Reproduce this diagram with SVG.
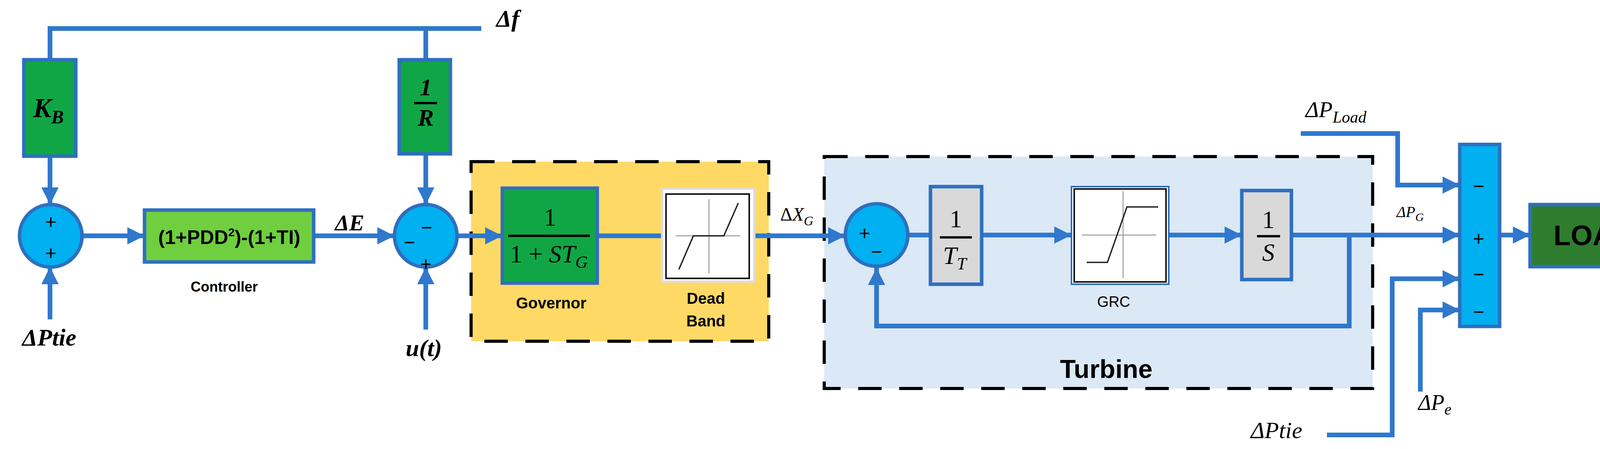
<svg xmlns="http://www.w3.org/2000/svg" width="4393" height="1150" viewBox="0 0 4393 1150">
<style>
.ln{fill:none;stroke:#2f78cc;stroke-width:12;stroke-linejoin:miter}
.arr{marker-end:url(#ah)}
.sum{fill:#00b0f0;stroke:#2e6fc0;stroke-width:9}
.gb{fill:#10a645;stroke:#2e6fc0;stroke-width:9}
.gray{fill:#d9d9d9;stroke:#2e6fc0;stroke-width:9}
.dash{stroke:#000;stroke-width:8;stroke-dasharray:60 45}
.m{font-family:"Liberation Serif",serif;font-style:italic;font-weight:bold;fill:#000;text-anchor:middle}
.mi{font-family:"Liberation Serif",serif;font-style:italic;fill:#000;text-anchor:middle}
.mr{font-family:"Liberation Serif",serif;fill:#000;text-anchor:middle}
.lb{font-family:"Liberation Sans",sans-serif;font-weight:bold;fill:#000;text-anchor:middle}
.sg{font-family:"Liberation Sans",sans-serif;fill:#000;text-anchor:middle;font-size:50px}
.bar{stroke:#000;stroke-width:6}
.ax{stroke:#999;stroke-width:2.5}
.cv{fill:none;stroke:#222;stroke-width:3.5}
</style>
<defs>
<marker id="ah" markerUnits="userSpaceOnUse" markerWidth="44" markerHeight="44" refX="40" refY="20" orient="auto" viewBox="0 0 40 40"><path d="M0,0 L40,20 L0,40 z" fill="#2f78cc"/></marker>
</defs>
<rect width="4393" height="1150" fill="#fff"/>

<g id="governor-group">
<rect x="1206" y="414" width="762" height="460" fill="#ffd966"/>
<rect x="1206" y="414" width="762" height="460" fill="none" class="dash"/>
</g>
<g id="turbine-group">
<rect x="2110" y="401" width="1404" height="594" fill="#dbe8f6"/>
<rect x="2110" y="401" width="1404" height="594" fill="none" class="dash"/>
<text x="2832" y="968" class="lb" font-size="66">Turbine</text>
</g>

<g id="connectors">
<path class="ln" d="M128,153 V73 H1232"/>
<path class="ln" d="M1090,153 V73"/>
<path class="ln arr" d="M128,400 V524"/>
<path class="ln arr" d="M128,818 V684"/>
<path class="ln arr" d="M210,604 H370"/>
<path class="ln arr" d="M803,604 H1010"/>
<path class="ln arr" d="M1090,394 V524"/>
<path class="ln arr" d="M1090,844 V684"/>
<path class="ln arr" d="M1170,604 H1286"/>
<path class="ln" d="M1529,604 H1705"/>
<path class="ln arr" d="M1931,604 H2164"/>
<path class="ln" d="M2324,602 H2382"/>
<path class="ln arr" d="M2513,602 H2743"/>
<path class="ln arr" d="M2992,602 H3179"/>
<path class="ln arr" d="M3306,602 H3737"/>
<path class="ln arr" d="M3454,602 V835 H2244 V686"/>
<path class="ln arr" d="M3330,342 H3578 V474 H3737"/>
<path class="ln arr" d="M3397,1114 H3564 V714 H3737"/>
<path class="ln arr" d="M3636,1003 V794 H3737"/>
<path class="ln arr" d="M3839,602 H3917"/>
<path class="ln arr" d="M4241,602 H4365"/>
</g>

<g id="df"><text x="1300" y="68" class="m" font-size="62">Δ<tspan>f</tspan></text></g>

<g id="kb">
<rect x="61" y="153" width="133" height="247" class="gb"/>
<text x="124" y="300" class="m" font-size="70">K<tspan font-size="48" dy="16">B</tspan></text>
</g>

<g id="sum1">
<circle cx="130" cy="604" r="80" class="sum"/>
<text x="130" y="585" class="sg">+</text>
<text x="130" y="665" class="sg">+</text>
</g>
<g id="dptie-left"><text x="126" y="885" class="m" font-size="62">ΔPtie</text></g>

<g id="controller">
<rect x="370" y="538" width="433" height="133" fill="#6fcf3e" stroke="#2e6fc0" stroke-width="9"/>
<text x="587" y="625" class="lb" font-size="50">(1+PDD<tspan font-size="30" dy="-20">2</tspan><tspan dy="20">)-(1+TI)</tspan></text>
<text x="574" y="747" class="lb" font-size="36">Controller</text>
</g>
<g id="de"><text x="895" y="590" class="m" font-size="58">ΔE</text></g>

<g id="rbox">
<rect x="1022" y="153" width="131" height="241" class="gb"/>
<text x="1090" y="244" class="m" font-size="62">1</text>
<line x1="1060" y1="264" x2="1119" y2="264" class="bar"/>
<text x="1090" y="322" class="m" font-size="62">R</text>
</g>

<g id="sum2">
<circle cx="1090" cy="604" r="80" class="sum"/>
<text x="1092" y="600" class="sg">−</text>
<text x="1048" y="638" class="sg">−</text>
<text x="1090" y="693" class="sg">+</text>
</g>
<g id="ut"><text x="1085" y="912" class="m" font-size="62">u(t)</text></g>

<g id="governor">
<rect x="1286" y="482" width="243" height="243" class="gb"/>
<text x="1408" y="578" class="mr" font-size="64">1</text>
<line x1="1301" y1="604" x2="1510" y2="604" class="bar"/>
<text x="1405" y="672" class="mr" font-size="64">1 + <tspan font-style="italic">ST</tspan><tspan font-style="italic" font-size="44" dy="14">G</tspan></text>
<text x="1411" y="790" class="lb" font-size="40">Governor</text>
</g>

<g id="deadband">
<rect x="1695" y="483" width="236" height="238" fill="#fff" stroke="#ddd" stroke-width="6"/>
<rect x="1705" y="497" width="213" height="216" fill="#fff" stroke="#111" stroke-width="4"/>
<line x1="1730" y1="604" x2="1895" y2="604" class="ax"/>
<line x1="1815" y1="510" x2="1815" y2="700" class="ax"/>
<path d="M1738,690 L1775,604 L1853,604 L1890,520" class="cv"/>
<text x="1807" y="778" class="lb" font-size="40">Dead</text>
<text x="1807" y="836" class="lb" font-size="40">Band</text>
</g>
<g id="dxg"><text x="2040" y="565" class="mr" font-size="48">Δ<tspan font-style="italic">X</tspan><tspan font-style="italic" font-size="34" dy="12">G</tspan></text></g>

<g id="sum3">
<circle cx="2244" cy="602" r="80" class="sum"/>
<text x="2213" y="614" class="sg">+</text>
<text x="2244" y="662" class="sg">−</text>
</g>

<g id="tt">
<rect x="2382" y="478" width="131" height="250" class="gray"/>
<text x="2447" y="582" class="mr" font-size="64">1</text>
<line x1="2406" y1="608" x2="2488" y2="608" class="bar"/>
<text x="2444" y="676" class="mi" font-size="64">T<tspan font-size="44" dy="14">T</tspan></text>
</g>

<g id="grc">
<rect x="2743" y="478" width="249" height="250" fill="#fff" stroke="#2e6fc0" stroke-width="4"/>
<rect x="2750" y="484" width="235" height="238" fill="#fff" stroke="#111" stroke-width="4"/>
<line x1="2770" y1="602" x2="2960" y2="602" class="ax"/>
<line x1="2875" y1="490" x2="2875" y2="712" class="ax"/>
<path d="M2782,672 L2835,672 L2885,530 L2965,530" class="cv"/>
<text x="2851" y="786" class="lb" font-size="38" style="font-weight:normal">GRC</text>
</g>

<g id="integrator">
<rect x="3179" y="488" width="127" height="228" class="gray"/>
<text x="3247" y="584" class="mr" font-size="64">1</text>
<line x1="3218" y1="605" x2="3277" y2="605" class="bar"/>
<text x="3247" y="668" class="mi" font-size="64">S</text>
</g>

<g id="dpload"><text x="3420" y="300" class="mi" font-size="58">ΔP<tspan font-size="42" dy="14">Load</tspan></text></g>
<g id="dpg"><text x="3610" y="556" class="mi" font-size="40">ΔP<tspan font-size="30" dy="10">G</tspan></text></g>
<g id="dptie-right"><text x="3268" y="1122" class="m" font-size="60" style="font-weight:normal">ΔPtie</text></g>
<g id="dpe"><text x="3673" y="1050" class="mi" font-size="56">ΔP<tspan font-size="40" dy="12">e</tspan></text></g>

<g id="sumblock">
<rect x="3737" y="370" width="102" height="466" class="sum"/>
<text x="3785" y="494" class="sg">−</text>
<text x="3785" y="628" class="sg">+</text>
<text x="3785" y="720" class="sg">−</text>
<text x="3785" y="816" class="sg">−</text>
</g>

<g id="load">
<rect x="3917" y="524" width="324" height="159" fill="#2e7d2e" stroke="#2e6fc0" stroke-width="9"/>
<text x="4079" y="628" class="lb" font-size="72">LOAD</text>
</g>
</svg>
